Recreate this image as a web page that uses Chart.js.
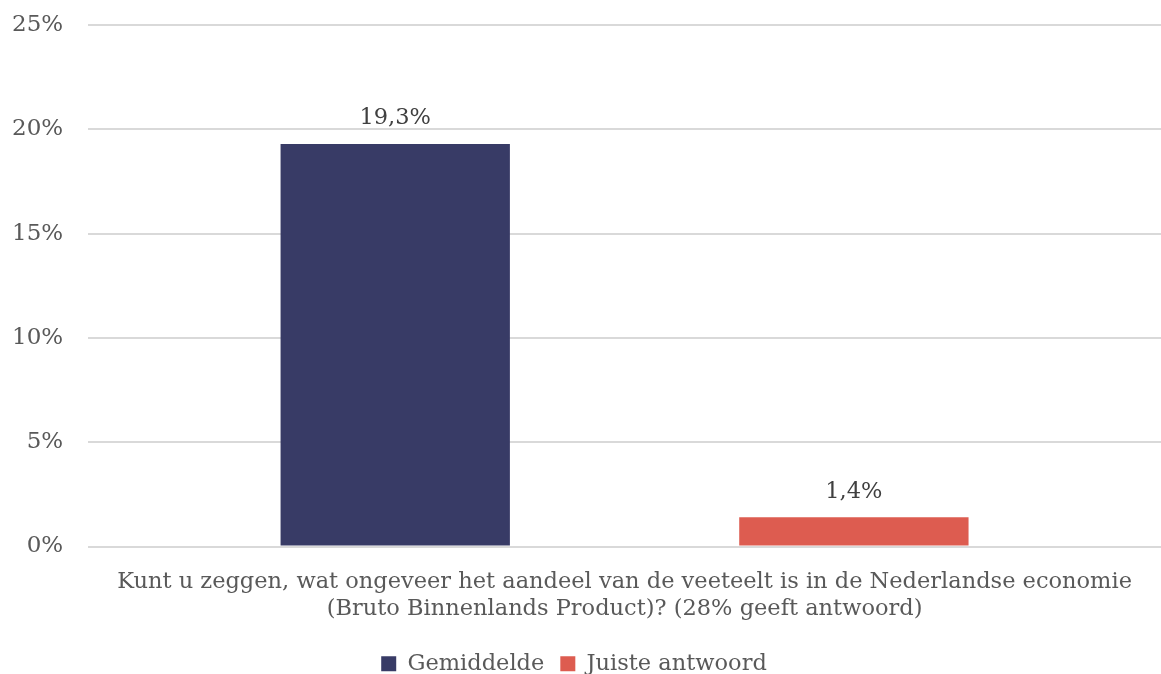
<!DOCTYPE html>
<html>
<head>
<meta charset="utf-8">
<script src="https://cdn.jsdelivr.net/npm/chart.js@4/dist/chart.umd.min.js"></script>
<style>
  html, body { margin: 0; padding: 0; background: #fff; }
  #wrap { width: 1161px; height: 674px; }
</style>
</head>
<body>
<div id="wrap"><canvas id="barChart"></canvas></div>
<script>
const categories = [
  ["Kunt u zeggen, wat ongeveer het aandeel van de veeteelt is in de Nederlandse economie",
   "(Bruto Binnenlands Product)? (28% geeft antwoord)"]
];
const seriesNames = ["Gemiddelde", "Juiste antwoord"];
const gemiddelde = [19.3];
const juisteAntwoord = [1.4];
const yTicks = [0, 5, 10, 15, 20, 25];

const fmt = (v) => v.toFixed(1).replace(".", ",") + "%";

// draws the value above each bar
const valueLabels = {
  id: "valueLabels",
  afterDatasetsDraw(chart) {
    const ctx = chart.ctx;
    ctx.save();
    ctx.font = "22.5px 'DejaVu Serif'";
    ctx.fillStyle = "#404040";
    ctx.textAlign = "center";
    ctx.textBaseline = "bottom";
    chart.data.datasets.forEach((ds, i) => {
      chart.getDatasetMeta(i).data.forEach((bar, j) => {
        ctx.fillText(fmt(ds.data[j]), bar.x, bar.y - 14);
      });
    });
    ctx.restore();
  },
};

Chart.defaults.font.family = "'DejaVu Serif', serif";
Chart.defaults.color = "#595959";

new Chart(document.getElementById("barChart"), {
  type: "bar",
  data: {
    labels: categories,
    datasets: [
      {
        label: seriesNames[0],
        data: gemiddelde,
        backgroundColor: "#383b66",
        categoryPercentage: 0.855,
        barPercentage: 0.5,
      },
      {
        label: seriesNames[1],
        data: juisteAntwoord,
        backgroundColor: "#dd5c50",
        categoryPercentage: 0.855,
        barPercentage: 0.5,
      },
    ],
  },
  options: {
    responsive: true,
    maintainAspectRatio: false,
    animation: false,
    layout: { padding: { top: 0, right: 0, left: -13, bottom: -11 } },
    scales: {
      x: {
        grid: { display: false },
        border: { display: false },
        ticks: { font: { size: 22.5, lineHeight: 1.2 }, padding: 14 },
      },
      y: {
        min: 0,
        max: 25,
        afterBuildTicks: (axis) => {
          axis.ticks = yTicks.map((v) => ({ value: v }));
        },
        grid: { color: "#d9d9d9", lineWidth: 2, drawTicks: false },
        border: { display: false },
        ticks: {
          font: { size: 23, lineHeight: 0 },
          padding: 25,
          callback: (v) => v + "%",
        },
      },
    },
    plugins: {
      legend: {
        position: "bottom",
        labels: {
          font: { size: 22.5 },
          boxWidth: 15,
          boxHeight: 15,
          padding: 16,
        },
      },
      tooltip: { enabled: false },
    },
  },
  plugins: [valueLabels],
});
</script>
</body>
</html>
